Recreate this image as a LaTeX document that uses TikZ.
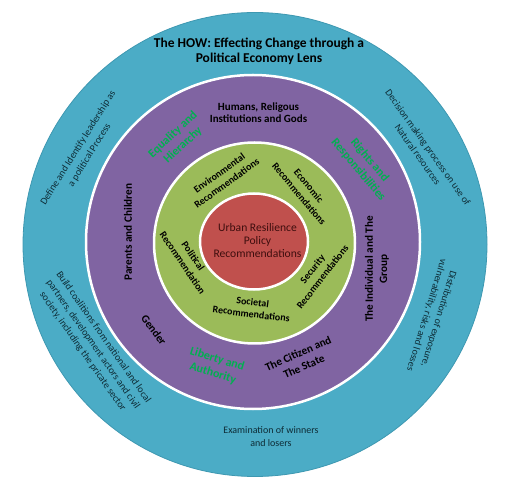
\documentclass[tikz,border=0pt]{standalone}
\usepackage{fontspec}
\setmainfont{Carlito}
\definecolor{teal}{HTML}{4BACC6}
\definecolor{tealedge}{HTML}{3E98B1}
\definecolor{purp}{HTML}{8064A2}
\definecolor{grn}{HTML}{9BBB59}
\definecolor{redc}{HTML}{C0504D}
\definecolor{greentext}{HTML}{00B050}
\definecolor{outertext}{HTML}{0E2C36}
\definecolor{redtext}{HTML}{3E0E0E}
\tikzset{
  ring/.style={draw=white, line width=2.5pt},
  outerlbl/.style={align=center, inner sep=0pt, text=outertext, font=\fontsize{10}{12.6}\selectfont},
  titlelbl/.style={align=center, inner sep=0pt, text=black, font=\bfseries\fontsize{13.5}{15}\selectfont},
  purplbl/.style={align=center, inner sep=0pt, text=black, font=\bfseries\fontsize{11.2}{14.2}\selectfont},
  humanslbl/.style={align=center, inner sep=0pt, text=black, font=\bfseries\fontsize{11}{12.2}\selectfont},
  greenlbl/.style={align=center, inner sep=0pt, text=greentext, font=\bfseries\fontsize{12}{14.8}\selectfont},
  grnringlbl/.style={align=center, inner sep=0pt, text=black, font=\bfseries\fontsize{10}{12.6}\selectfont},
  redlbl/.style={align=center, inner sep=0pt, text=redtext, font=\fontsize{11.6}{13}\selectfont}
}
\begin{document}
\begin{tikzpicture}[x=1pt,y=-1pt]
\useasboundingbox (0,0) rectangle (517,486);
% rings
\fill[teal, draw=tealedge, line width=0.8pt] (255,244.5) circle[radius=232pt];
\fill[purp, ring] (253,242) circle[radius=167pt];
\fill[grn, ring] (254.5,243) circle[radius=100.5pt];
\filldraw[redc, ring] (254,241.5) ellipse[x radius=54pt, y radius=48pt];
% outer ring texts
\node[titlelbl] (title) at (259,51.5) {The HOW: Effecting Change through a\\Political Economy Lens};
\node[outerlbl, rotate=58, font=\fontsize{10}{13.4}\selectfont] (define) at (84,151.5) {Define and Identify leadership as\\a political Process};
\node[outerlbl, rotate=-54.5] (decision) at (423,151) {Decision making process on use of\\Natural resources};
\node[outerlbl, rotate=-55] (build) at (93,344.5) {Build coalitions from national and local\\partners, development actors and civil\\society, including the pricate sector};
\node[outerlbl, rotate=-107] (distrib) at (432.5,317) {Distribution of exposure,\\vulnerability, risks and losses};
\node[outerlbl] (exam) at (271,436.5) {Examination of winners\\and losers};
% purple ring texts
\node[humanslbl] (humans) at (258.5,112.5) {Humans, Religous\\Institutions and Gods};
\node[purplbl, rotate=90] (parents) at (128,232) {Parents and Children};
\node[purplbl, rotate=90] (indiv) at (377,269) {The Individual and The\\Group};
\node[purplbl, rotate=-54] (gender) at (154,330) {Gender};
\node[purplbl, rotate=24] (citizen) at (301,360) {The Citizen and\\The State};
\node[greenlbl, rotate=43] (equality) at (178,140) {Equality and\\Hierarchy};
\node[greenlbl, rotate=-50] (rights) at (364,165) {Rights and\\Responsibilities};
\node[greenlbl, rotate=-17] (liberty) at (215,366.5) {Liberty and\\Authority};
% green ring texts
\node[grnringlbl, rotate=36] (env) at (223,178) {Environmental\\Recommendations};
\node[grnringlbl, rotate=-50] (econ) at (304,190) {Economic\\Recommendations};
\node[grnringlbl, rotate=-56] (polit) at (188,259.5) {Political\\Recommendation};
\node[grnringlbl, rotate=52] (secur) at (317.5,273) {Security\\Recommendations};
\node[grnringlbl, rotate=-7, font=\bfseries\fontsize{10}{12}\selectfont] (societ) at (252,308) {Societal\\Recommendations};
% centre
\node[redlbl] (urban) at (257.5,240.5) {Urban Resilience\\Policy\\Recommendations};
\end{tikzpicture}
\end{document}
